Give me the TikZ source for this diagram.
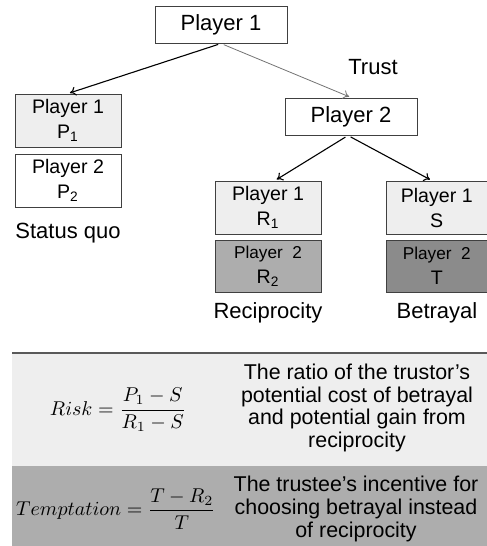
\documentclass[tikz,border=0pt]{standalone}
\usepackage{fontspec}
\setmainfont{Liberation Sans}
\usetikzlibrary{positioning, arrows.meta}

\definecolor{paleGrey}{HTML}{EEEEEE}
\definecolor{midGrey}{HTML}{ADADAD}
\definecolor{deepGrey}{HTML}{8B8B8B}
\definecolor{rowGrey}{HTML}{ADADAD}

\tikzset{
  box/.style = {draw=black!75, line width=0.5pt, rectangle, align=center, inner sep=0pt},
  root/.style = {box, minimum width=66pt, minimum height=18.5pt, font=\fontsize{11}{13}\selectfont},
  payoff/.style = {box, minimum width=53pt, minimum height=26.5pt, font=\fontsize{9.8}{12.5}\selectfont},
  caption/.style = {inner sep=0pt, font=\fontsize{11}{13}\selectfont},
  note/.style = {inner sep=0pt, align=center, font=\fontsize{10.7}{11.4}\selectfont},
  mathcell/.style = {inner sep=0pt, font=\fontsize{9.7}{11}\selectfont},
  move/.style = {->, line width=0.55pt, shorten <=1.5pt, shorten >=1pt}
}

\begin{document}
\begin{tikzpicture}[x=0.5pt, y=-0.5pt, >={To[length=3pt, width=4.5pt]}]
\useasboundingbox (0,0) rectangle (487,546);

% game tree
\node[root] (P1root) at (221,24.5) {Player 1};
\node[caption] (trust) at (373,67) {Trust};
\node[root] (P2) at (351,116.5) {Player 2};

\node[payoff, fill=paleGrey] (SQa) at (68,120.5) {Player 1\\P\textsubscript{1}};
\node[payoff] (SQb) [below=3pt of SQa] {Player 2\\P\textsubscript{2}};
\node[caption] (SQ) at (68,233) {Status quo};

\node[payoff, fill=paleGrey] (Ra) at (268,207.5) {Player 1\\R\textsubscript{1}};
\node[payoff, fill=midGrey, minimum height=26pt] (Rb) [below=2.5pt of Ra]
  {{\fontsize{8.6}{10}\selectfont Player\ \ 2}\\R\textsubscript{2}};
\node[caption] (Rec) at (268,313) {Reciprocity};

\node[payoff, fill=paleGrey, minimum width=50.5pt] (Sa) at (436.75,207.5) {Player 1\\S};
\node[payoff, fill=deepGrey, minimum width=50.5pt, minimum height=26pt] (Sb) [below=2.5pt of Sa]
  {{\fontsize{8.6}{10}\selectfont Player\ \ 2}\\T};
\node[caption] (Bet) at (437,313) {Betrayal};

\draw[move] (P1root.south) -- (SQa.north);
\draw[move, black!55, line width=0.4pt] (P1root.south) -- (P2.north);
\draw[move] ([xshift=-1.5pt]P2.south) -- ([xshift=3.5pt]Ra.north);
\draw[move] ([xshift=-1.5pt]P2.south) -- ([xshift=-2.5pt]Sa.north);

% measures
\fill[paleGrey] (12,353) rectangle (487,466);
\fill[rowGrey] (12,466) rectangle (487,546);
\draw[black!65, line width=0.6pt] (12,353) -- (487,353);

\node[mathcell] (riskEq) at (118,410) {$\displaystyle Risk = \frac{P_1 - S}{R_1 - S}$};
\node[note] (riskNote) at (357,408) {The ratio of the trustor's\\potential cost of betrayal\\and potential gain from\\reciprocity};
\node[mathcell] (temptEq) at (116,509) {$\displaystyle Temptation = \frac{T - R_2}{T}$};
\node[note] (temptNote) at (356,509) {The trustee's incentive for\\choosing betrayal instead\\of reciprocity};
\end{tikzpicture}
\end{document}
